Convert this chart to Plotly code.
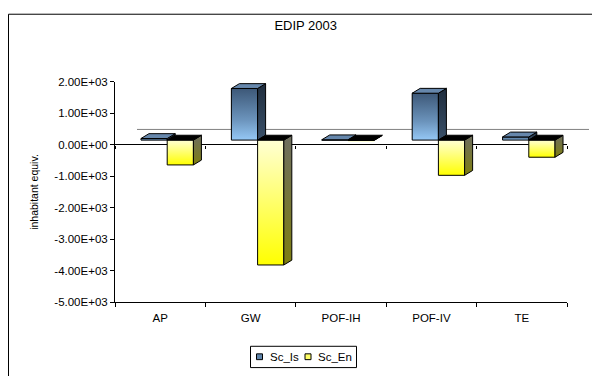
import plotly.graph_objects as go

# ---------------- data ----------------
categories = ["AP", "GW", "POF-IH", "POF-IV", "TE"]
series_names = ["Sc_Is", "Sc_En"]
sc_is = [50, 1640, 10, 1490, 100]
sc_en = [-790, -3970, -10, -1120, -545]
y_tick_values = [2000, 1000, 0, -1000, -2000, -3000, -4000, -5000]
y_tick_labels = ["2.00E+03", "1.00E+03", "0.00E+00", "-1.00E+03",
                 "-2.00E+03", "-3.00E+03", "-4.00E+03", "-5.00E+03"]
chart_title = "EDIP 2003"
y_title = "inhabitant equiv."

# ---------------- geometry (pixels) ----------------
W, H = 592, 376
PLOT_L, PLOT_R = 115, 567          # front edge of the floor
PLOT_T, PLOT_B = 78.5, 306
Y_MIN, Y_MAX = -5000, 2000
N = len(categories)
FRONT_SHIFT = (7, 5)               # bars stand a bit behind the floor's front edge
BAR_DEPTH = (8, 5)                 # oblique depth of each column
WALL_SHIFT = (22, 16)              # back wall offset
BAR_W = 0.29                       # column width in category units

FONT = "Liberation Sans, Arial, sans-serif"
EDGE = "#000000"


def fx(px):
    return px / W


def fy(py):
    return 1 - py / H


xdom = [fx(PLOT_L), fx(PLOT_R)]
ydom = [fy(PLOT_B), fy(PLOT_T)]
xdom2 = [fx(PLOT_L + FRONT_SHIFT[0]), fx(PLOT_R + FRONT_SHIFT[0])]
ydom2 = [fy(PLOT_B - FRONT_SHIFT[1]), fy(PLOT_T - FRONT_SHIFT[1])]

px_per_cat = (PLOT_R - PLOT_L) / N
px_per_val = (PLOT_B - PLOT_T) / (Y_MAX - Y_MIN)
DX = BAR_DEPTH[0] / px_per_cat
DY = BAR_DEPTH[1] / px_per_val
zero_paper = ydom[0] + (0 - Y_MIN) / (Y_MAX - Y_MIN) * (ydom[1] - ydom[0])

styles = {
    "Sc_Is": dict(
        flat="#5f84aa",
        front=[[0, "#95c8f6"], [0.4, "#6b93bb"], [1, "#3d5878"]],
        side=[[0, "#3a5069"], [1, "#1f2d3d"]],
        top_pos="#6687ac", top_neg="#000000",
    ),
    "Sc_En": dict(
        flat="#ffff66",
        front=[[0, "#ffff00"], [1, "#ffffd4"]],
        side=[[0, "#7e7e10"], [1, "#6e6e60"]],
        top_pos="#ffff99", top_neg="#000000",
    ),
}

fig = go.Figure()

# column fronts as ordinary bars (covered by shaded faces below)
for name, vals, off in [(series_names[0], sc_is, -BAR_W), (series_names[1], sc_en, 0.0)]:
    fig.add_trace(go.Bar(
        x=[i + 0.5 for i in range(N)], y=vals, name=name,
        width=BAR_W, offset=off,
        marker=dict(color=styles[name]["flat"], line=dict(width=0)),
        xaxis="x2", yaxis="y2", showlegend=False, hoverinfo="skip",
    ))


def poly(xs, ys, **kw):
    fig.add_trace(go.Scatter(
        x=xs + [xs[0]], y=ys + [ys[0]], mode="lines", fill="toself",
        line=dict(color=EDGE, width=1), xaxis="x2", yaxis="y2",
        hoverinfo="skip", showlegend=False, **kw,
    ))


def column_faces(left, value, st):
    right = left + BAR_W
    lo, hi = min(0, value), max(0, value)
    # front face
    poly([left, right, right, left], [lo, lo, hi, hi],
         fillgradient=dict(type="vertical", colorscale=st["front"]))
    # right side face
    poly([right, right, right + DX, right + DX], [lo, hi, hi + DY, lo + DY],
         fillgradient=dict(type="vertical", colorscale=st["side"]))
    # top face
    poly([left, right, right + DX, left + DX], [hi, hi, hi + DY, hi + DY],
         fillcolor=st["top_pos"] if value > 0 else st["top_neg"])


for i in range(N):
    column_faces(i + 0.5 - BAR_W, sc_is[i], styles["Sc_Is"])
    column_faces(i + 0.5, sc_en[i], styles["Sc_En"])

# anchors for the axis subplots
fig.add_trace(go.Scatter(x=[None], y=[None], xaxis="x", yaxis="y",
                         showlegend=False, hoverinfo="skip"))
fig.add_trace(go.Scatter(x=[None], y=[None], xaxis="x4", yaxis="y",
                         showlegend=False, hoverinfo="skip"))

tick_font = dict(family=FONT, size=11.5, color="black")

fig.update_layout(
    width=W, height=H,
    margin=dict(l=0, r=0, t=0, b=0),
    paper_bgcolor="white",
    plot_bgcolor="rgba(0,0,0,0)",
    barmode="overlay",
    showlegend=False,
    title=dict(text=chart_title, x=fx(305.7), y=fy(25.8),
               xanchor="center", yanchor="middle",
               font=dict(family=FONT, size=13, color="black")),
    xaxis=dict(
        domain=xdom, anchor="y", range=[0, N],
        tickvals=[i + 0.5 for i in range(N)], ticktext=categories,
        ticks="", showline=True, linecolor="black", linewidth=1,
        showgrid=False, zeroline=False, tickfont=tick_font,
        ticklabelstandoff=5,
        minor=dict(tickvals=list(range(N + 1)), ticks="outside", ticklen=4,
                   tickcolor="black", tickwidth=1, showgrid=False),
        fixedrange=True,
    ),
    yaxis=dict(
        domain=ydom, anchor="x", range=[Y_MIN, Y_MAX],
        tickvals=y_tick_values, ticktext=y_tick_labels,
        ticks="outside", ticklen=4, tickcolor="black", tickwidth=1,
        showline=True, linecolor="black", linewidth=1,
        showgrid=False, zeroline=True, zerolinecolor="black", zerolinewidth=1,
        tickfont=tick_font, fixedrange=True,
    ),
    xaxis4=dict(
        overlaying="x", anchor="free", position=zero_paper, side="bottom",
        range=[0, N], tickvals=list(range(N + 1)), ticks="outside", ticklen=3,
        tickcolor="black", showticklabels=False, showline=False,
        showgrid=False, zeroline=False, fixedrange=True,
    ),
    xaxis2=dict(domain=xdom2, anchor="y2", range=[0, N], visible=False, fixedrange=True),
    yaxis2=dict(domain=ydom2, anchor="x2", range=[Y_MIN, Y_MAX], visible=False, fixedrange=True),
)

shapes = [
    # chart frame
    dict(type="rect", xref="paper", yref="paper", x0=fx(8.5), x1=1.05,
         y0=-0.05, y1=fy(8.5), line=dict(color="black", width=1), layer="below"),
    # back wall zero line
    dict(type="line", xref="paper", yref="paper",
         x0=fx(PLOT_L + WALL_SHIFT[0]), x1=fx(PLOT_R + WALL_SHIFT[0]),
         y0=zero_paper + WALL_SHIFT[1] / H, y1=zero_paper + WALL_SHIFT[1] / H,
         line=dict(color="#808080", width=1), layer="below"),
    # legend box
    dict(type="rect", xref="paper", yref="paper", x0=fx(250.5), x1=fx(356.5),
         y0=fy(373.5), y1=fy(351.5), line=dict(color="black", width=1),
         fillcolor="white", layer="above"),
]
legend_items = [(series_names[0], 256.5, 268.0), (series_names[1], 305.0, 315.7)]
for name, sx, tx in legend_items:
    shapes.append(dict(type="rect", xref="paper", yref="paper",
                       x0=fx(sx), x1=fx(sx + 6), y0=fy(365.3), y1=fy(359.3),
                       line=dict(color="black", width=1),
                       fillcolor=styles[name]["flat"], layer="above"))
fig.update_layout(shapes=shapes)

annotations = [
    dict(text=y_title, textangle=-90, x=fx(34), y=fy(192), xref="paper", yref="paper",
         xanchor="center", yanchor="middle", showarrow=False,
         font=dict(family=FONT, size=10.5, color="black")),
]
for name, sx, tx in legend_items:
    annotations.append(dict(text=name, x=fx(tx), y=fy(362.3), xref="paper", yref="paper",
                            xanchor="left", yanchor="middle", showarrow=False,
                            font=dict(family=FONT, size=11.5, color="black")))
fig.update_layout(annotations=annotations)

fig.write_html("out.html", config=dict(displayModeBar=False))
